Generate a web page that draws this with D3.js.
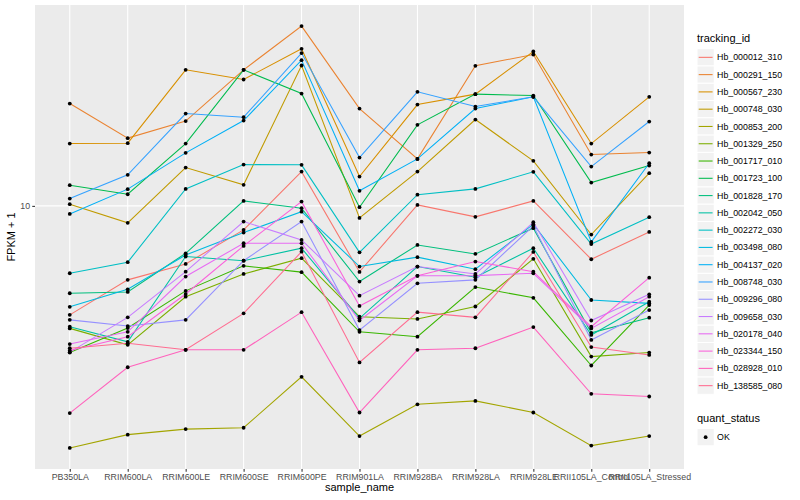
<!DOCTYPE html>
<html><head><meta charset="utf-8">
<script src="https://cdn.jsdelivr.net/npm/d3@7"></script>
<style>body{margin:0;background:#fff}svg{display:block;font-family:"Liberation Sans",Arial,Helvetica,sans-serif}</style>
</head><body><svg id="c" width="800" height="500"></svg>
<script>
const categories = ["PB350LA","RRIM600LA","RRIM600LE","RRIM600SE","RRIM600PE","RRIM901LA","RRIM928BA","RRIM928LA","RRIM928LE","RRII105LA_Control","RRII105LA_Stressed"];
const trackingIds = ["Hb_000012_310","Hb_000291_150","Hb_000567_230","Hb_000748_030","Hb_000853_200","Hb_001329_250","Hb_001717_010","Hb_001723_100","Hb_001828_170","Hb_002042_050","Hb_002272_030","Hb_003498_080","Hb_004137_020","Hb_008748_030","Hb_009296_080","Hb_009658_030","Hb_020178_040","Hb_023344_150","Hb_028928_010","Hb_138585_080"];
// FPKM + 1 values, one array per tracking_id, in category order
const Hb_000012_310 = [4.70, 5.99, 6.69, 8.47, 12.68, 6.33, 10.07, 9.27, 10.35, 6.91, 8.35];
const Hb_000291_150 = [20.32, 15.99, 17.99, 25.67, 34.75, 19.63, 13.85, 26.39, 28.54, 14.27, 14.47];
const Hb_000567_230 = [15.40, 15.44, 25.67, 24.00, 29.69, 12.25, 20.18, 21.69, 29.14, 15.40, 21.29];
const Hb_000748_030 = [10.12, 8.89, 13.04, 11.57, 26.45, 9.20, 12.68, 18.19, 13.66, 8.20, 12.54];
const Hb_000853_200 = [1.87, 2.05, 2.13, 2.15, 3.06, 2.03, 2.53, 2.59, 2.39, 1.90, 2.03];
const Hb_001329_250 = [4.28, 3.82, 5.33, 6.24, 6.96, 4.64, 4.57, 4.98, 6.93, 3.52, 3.62];
const Hb_001717_010 = [3.62, 4.29, 5.55, 6.60, 6.32, 4.18, 4.04, 5.70, 5.29, 3.31, 5.03];
const Hb_001723_100 = [11.54, 10.84, 15.40, 25.67, 21.78, 9.91, 17.53, 21.69, 21.48, 11.75, 13.22];
const Hb_001828_170 = [5.46, 5.51, 7.20, 10.35, 9.84, 5.92, 7.63, 7.17, 8.57, 4.15, 4.61];
const Hb_002042_050 = [4.33, 3.90, 7.04, 6.84, 7.46, 4.59, 6.57, 6.10, 7.46, 4.09, 5.15];
const Hb_002272_030 = [6.27, 6.77, 11.25, 13.31, 13.29, 7.25, 10.81, 11.25, 12.66, 7.68, 9.25];
const Hb_003498_080 = [4.97, 5.61, 7.12, 8.31, 9.61, 6.57, 7.01, 6.45, 8.81, 5.21, 5.09];
const Hb_004137_020 = [9.46, 11.23, 14.44, 18.06, 27.45, 11.10, 13.85, 19.63, 21.29, 7.79, 13.44];
const Hb_008748_030 = [10.52, 12.40, 18.96, 18.49, 28.82, 13.98, 22.04, 19.90, 21.29, 13.13, 17.94];
const Hb_009296_080 = [4.54, 4.35, 4.54, 6.84, 8.97, 4.23, 5.85, 5.99, 8.71, 3.95, 4.86];
const Hb_009658_030 = [3.63, 4.62, 6.34, 8.97, 7.90, 5.37, 6.57, 6.24, 8.93, 4.52, 5.42];
const Hb_020178_040 = [3.84, 4.18, 6.13, 7.72, 7.72, 4.52, 6.16, 6.17, 6.27, 4.28, 5.33];
const Hb_023344_150 = [3.67, 4.04, 5.43, 7.58, 10.30, 5.00, 6.16, 6.80, 6.34, 4.33, 6.08];
const Hb_028928_010 = [2.38, 3.27, 3.69, 3.69, 4.79, 2.39, 3.69, 3.73, 4.32, 2.72, 2.67];
const Hb_138585_080 = [3.73, 3.86, 3.69, 4.75, 7.28, 3.38, 4.79, 4.62, 7.27, 3.76, 3.56];
const seriesValues = [Hb_000012_310,Hb_000291_150,Hb_000567_230,Hb_000748_030,Hb_000853_200,Hb_001329_250,Hb_001717_010,Hb_001723_100,Hb_001828_170,Hb_002042_050,Hb_002272_030,Hb_003498_080,Hb_004137_020,Hb_008748_030,Hb_009296_080,Hb_009658_030,Hb_020178_040,Hb_023344_150,Hb_028928_010,Hb_138585_080];
const yTickValues = [10];
const quantStatus = ["OK"];
const palette = ["#F8766D","#EA8331","#D89000","#C09B00","#A3A500","#7CAE00","#39B600","#00BB4E","#00BF7D","#00C1A3","#00BFC4","#00BAE0","#00B0F6","#35A2FF","#9590FF","#C77CFF","#E76BF3","#FA62DB","#FF62BC","#FF6C91"];

const svg = d3.select("#c");
const P = {left:35, right:684, top:5, bottom:469};

const x = d3.scalePoint().domain(categories).range([P.left, P.right]).padding(0.6);
const all = seriesValues.flat();
const lo = Math.log10(d3.min(all)), hi = Math.log10(d3.max(all)), pad = (hi - lo) * 0.05;
const y = d3.scaleLog().domain([Math.pow(10, lo - pad), Math.pow(10, hi + pad)]).range([P.bottom, P.top]);
const color = d3.scaleOrdinal().domain(trackingIds).range(palette);

svg.append("rect").attr("x", P.left).attr("y", P.top).attr("width", P.right - P.left).attr("height", P.bottom - P.top).attr("fill", "#EBEBEB");

const grid = svg.append("g").attr("stroke", "#FFFFFF").attr("stroke-width", 1.07);
grid.selectAll("line.v").data(categories).join("line").attr("class","v")
  .attr("x1", d => x(d)).attr("x2", d => x(d)).attr("y1", P.top).attr("y2", P.bottom);
grid.selectAll("line.h").data(yTickValues).join("line").attr("class","h")
  .attr("x1", P.left).attr("x2", P.right).attr("y1", d => y(d)).attr("y2", d => y(d));

const table = trackingIds.map((id, k) => ({id, values: seriesValues[k].map((v, i) => ({cat: categories[i], v}))}));

const line = d3.line().x(d => x(d.cat)).y(d => y(d.v));
svg.append("g").selectAll("path").data(table).join("path")
  .attr("d", d => line(d.values)).attr("fill", "none")
  .attr("stroke", d => color(d.id)).attr("stroke-width", 1.07);

svg.append("g").selectAll("circle").data(table.flatMap(s => s.values)).join("circle")
  .attr("cx", d => x(d.cat)).attr("cy", d => y(d.v)).attr("r", 1.9).attr("fill", "#000");

// axes
const xa = svg.append("g").attr("transform", `translate(0,${P.bottom})`)
  .call(d3.axisBottom(x).tickSize(2.75).tickPadding(2.2));
xa.select(".domain").remove();
xa.selectAll(".tick line").attr("stroke", "#333333").attr("stroke-width", 1.07);
xa.selectAll(".tick text").attr("fill", "#4D4D4D").attr("font-size", 8.8).attr("font-family", null);

const ya = svg.append("g").attr("transform", `translate(${P.left},0)`)
  .call(d3.axisLeft(y).tickValues(yTickValues).tickFormat(d3.format("d")).tickSize(2.75).tickPadding(2.2));
ya.select(".domain").remove();
ya.selectAll(".tick line").attr("stroke", "#333333").attr("stroke-width", 1.07);
ya.selectAll(".tick text").attr("fill", "#4D4D4D").attr("font-size", 8.8).attr("font-family", null);

svg.append("text").attr("x", (P.left + P.right) / 2).attr("y", 491).attr("text-anchor", "middle")
  .attr("font-size", 11).attr("fill", "#000").text("sample_name");
svg.append("text").attr("transform", `translate(15,${(P.top + P.bottom) / 2}) rotate(-90)`).attr("text-anchor", "middle")
  .attr("font-size", 11).attr("fill", "#000").text("FPKM + 1");

// legend: tracking_id
const L = {x:697, titleY:42, firstY:48.7, keyH:17.28, keyW:17.28};
svg.append("text").attr("x", L.x).attr("y", L.titleY).attr("font-size", 11).text("tracking_id");
const lg = svg.append("g").selectAll("g").data(trackingIds).join("g")
  .attr("transform", (d, i) => `translate(${L.x},${L.firstY + i * L.keyH})`);
lg.append("rect").attr("width", L.keyW).attr("height", L.keyH).attr("fill", "#F2F2F2").attr("stroke", "#FFFFFF").attr("stroke-width", 1);
lg.append("line").attr("x1", 1.7).attr("x2", L.keyW - 1.7).attr("y1", L.keyH / 2).attr("y2", L.keyH / 2)
  .attr("stroke", d => color(d)).attr("stroke-width", 1.07);
lg.append("text").attr("x", L.keyW + 2.8).attr("y", L.keyH / 2).attr("dy", "0.35em").attr("font-size", 8.8).text(d => d);

// legend: quant_status
const Q = {titleY:422, firstY:428.5};
svg.append("text").attr("x", L.x).attr("y", Q.titleY).attr("font-size", 11).text("quant_status");
const qg = svg.append("g").selectAll("g").data(quantStatus).join("g")
  .attr("transform", (d, i) => `translate(${L.x},${Q.firstY + i * L.keyH})`);
qg.append("rect").attr("width", L.keyW).attr("height", L.keyH).attr("fill", "#F2F2F2").attr("stroke", "#FFFFFF");
qg.append("circle").attr("cx", L.keyW / 2).attr("cy", L.keyH / 2).attr("r", 1.9).attr("fill", "#000");
qg.append("text").attr("x", L.keyW + 2.8).attr("y", L.keyH / 2).attr("dy", "0.35em").attr("font-size", 8.8).text(d => d);
</script></body></html>
